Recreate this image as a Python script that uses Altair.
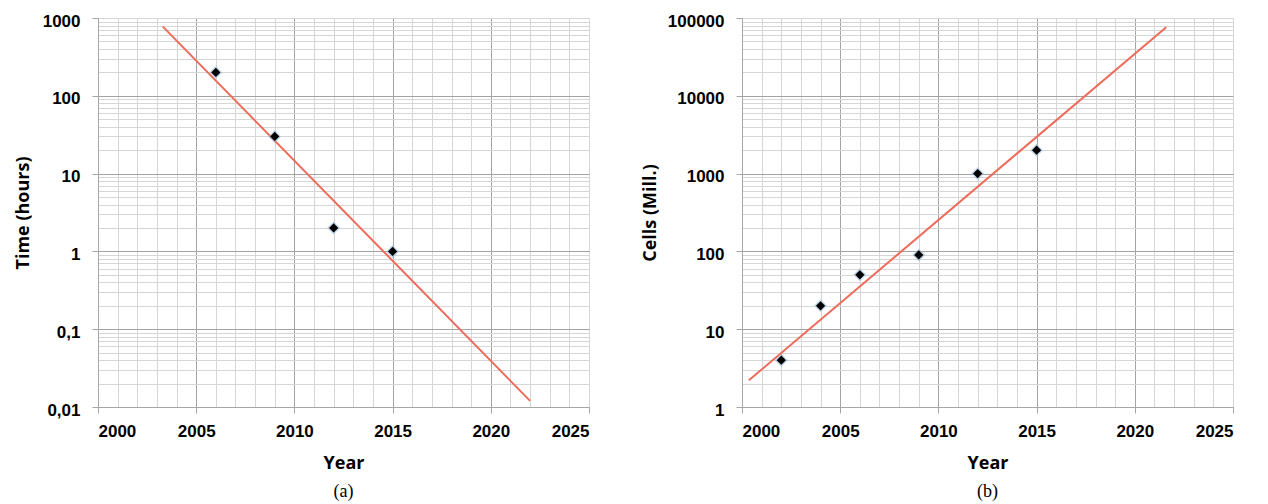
import altair as alt
import pandas as pd

# ---------------- data ----------------
years_a = [2006, 2009, 2012, 2015]
time_hours = [200, 30, 2, 1]
trend_years_a = [2003.3, 2022.0]
trend_hours = [774, 0.012]

years_b = [2002, 2004, 2006, 2009, 2012, 2015]
cells_mill = [4, 20, 50, 90, 1000, 2000]
trend_years_b = [2000.35, 2021.6]
trend_cells = [2.2, 76000]

x_ticks = list(range(2000, 2026))
x_major = [2000, 2005, 2010, 2015, 2020, 2025]

y_major_a = [0.01, 0.1, 1, 10, 100, 1000]
y_major_b = [1, 10, 100, 1000, 10000, 100000]
mult = [1, 2, 3, 4, 5, 6, 7, 8, 9]
y_ticks_a = [round(m * d, 6) for d in y_major_a[:-1] for m in mult] + [y_major_a[-1]]
y_ticks_b = [m * d for d in y_major_b[:-1] for m in mult] + [y_major_b[-1]]

captions = ["(a)", "(b)"]

W, H = 491, 389
MAJOR = "#a3a3a3"
MINOR = "#d6d6d6"
LABEL_FONT = "Liberation Sans"


def js_list(vals):
    return "[" + ",".join(repr(v) for v in vals) + "]"


def x_axis():
    test = f"indexof({js_list(x_major[:-1])}, datum.value) >= 0"
    return alt.Axis(
        values=x_ticks,
        title="Year",
        labelExpr=f"indexof({js_list(x_major)}, datum.value) >= 0 ? toString(datum.value) : ''",
        labelOverlap=False,
        labelPadding=10,
        titlePadding=15,
        gridColor={"condition": {"test": test, "value": MAJOR}, "value": MINOR},
        tickOpacity={"condition": {"test": f"indexof({js_list(x_major)}, datum.value) >= 0", "value": 1}, "value": 0},
    )


def y_axis(title, ticks, majors, title_pad):
    test = f"indexof({js_list(majors)}, datum.value) >= 0"
    return alt.Axis(
        values=ticks,
        title=title,
        labelExpr=f"{test} ? replace(toString(datum.value), '.', ',') : ''",
        labelOverlap=False,
        labelPadding=12,
        labelOffset=3,
        titlePadding=title_pad,
        gridColor={"condition": {"test": f"indexof({js_list(majors[:-1])}, datum.value) >= 0", "value": MAJOR}, "value": MINOR},
        tickOpacity={"condition": {"test": test, "value": 1}, "value": 0},
    )


def panel(years, vals, tyears, tvals, ytitle, yticks, ymajors, title_pad, caption):
    pts = pd.DataFrame({"year": years, "value": vals})
    trend = pd.DataFrame({"year": tyears, "value": tvals})
    xs = alt.Scale(domain=[x_ticks[0], x_ticks[-1]], nice=False, zero=False)
    ys = alt.Scale(type="log", domain=[ymajors[0], ymajors[-1]], nice=False)
    xenc = alt.X("year:Q", scale=xs, axis=x_axis())
    yenc = alt.Y("value:Q", scale=ys, axis=y_axis(ytitle, yticks, ymajors, title_pad))

    line = alt.Chart(trend).mark_line(color="#ee6b5a", strokeWidth=2, clip=False).encode(x=xenc, y=yenc)
    glow = alt.Chart(pts).mark_point(shape="diamond", filled=True, color="#8fb4d9",
                                     opacity=0.55, size=170).encode(x=xenc, y=yenc)
    dots = alt.Chart(pts).mark_point(shape="diamond", filled=True, color="black",
                                     opacity=1, size=85).encode(x=xenc, y=yenc)
    cap = alt.Chart(pd.DataFrame({"caption": [caption]})).mark_text(
        font="Liberation Serif", fontSize=18, color="black", baseline="middle", align="center"
    ).encode(x=alt.value(W / 2), y=alt.value(H + 85), text="caption:N")
    return alt.layer(line, glow, dots, cap).properties(width=W, height=H)


left = panel(years_a, time_hours, trend_years_a, trend_hours, "Time (hours)",
             y_ticks_a, y_major_a, 10, captions[0])
right = panel(years_b, cells_mill, trend_years_b, trend_cells, "Cells (Mill.)",
              y_ticks_b, y_major_b, 8, captions[1])

chart = alt.hconcat(left, right, spacing=50).configure_axis(
    labelFont=LABEL_FONT, labelFontWeight="bold", labelFontSize=17, labelColor="black",
    titleFont="Open Sans", titleFontWeight="bold", titleFontSize=18, titleColor="black",
    domainColor="#a6a6a6", tickColor="#a6a6a6", tickSize=6, gridWidth=1,
).configure_view(stroke="#cccccc").properties(
    background="white", padding={"left": 5, "top": 3, "right": 5, "bottom": 0}
)

chart.save("out.html", embed_options={"renderer": "svg", "actions": False})
